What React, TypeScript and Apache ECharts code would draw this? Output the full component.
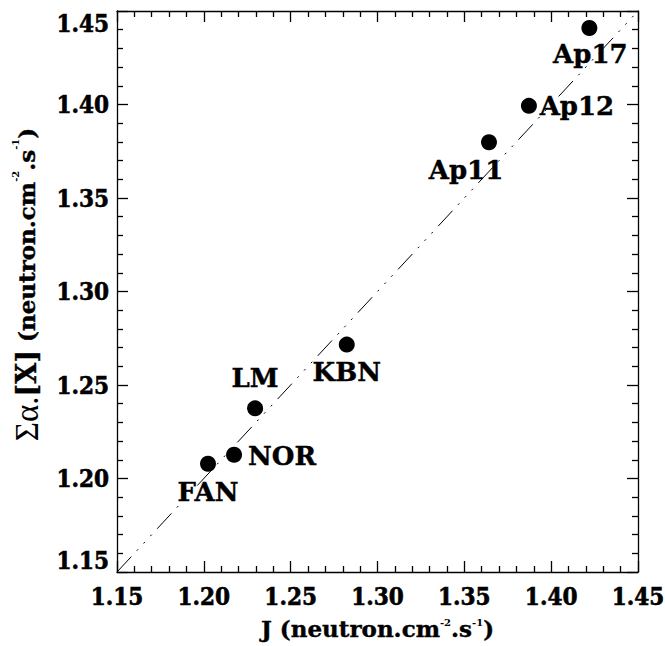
import React, { useEffect, useRef } from "react";
import * as echarts from "echarts";

const siteNames = ["FAN", "NOR", "LM", "KBN", "Ap11", "Ap12", "Ap17"];
const jValues = [1.2024, 1.2174, 1.2295, 1.2823, 1.3642, 1.3872, 1.422];
const sumAlphaX = [1.2079, 1.2127, 1.2375, 1.2716, 1.3798, 1.3993, 1.4409];
const axisMin = 1.15;
const axisMax = 1.45;
const axisStep = 0.05;
const identityLine = [
  [1.15, 1.15],
  [1.45, 1.45],
];

const COND = "'DejaVu Serif Condensed', 'DejaVu Serif', serif";
const SERIF = "'DejaVu Serif', serif";

export default function App() {
  const ref = useRef<HTMLDivElement>(null);
  useEffect(() => {
    if (!ref.current) return;
    const chart = echarts.init(ref.current, undefined, { renderer: "svg" });
    const offsets: Record<string, [number, number]> = {
      FAN: [0, 28],
      NOR: [48, 1],
      LM: [0, -30],
      KBN: [0, 27],
      Ap11: [-23, 28],
      Ap12: [48, 0],
      Ap17: [1, 26],
    };
    const lineStyle = { color: "#000", width: 1.3 };
    const tickLabel = {
      fontFamily: COND,
      fontWeight: "bold" as const,
      fontSize: 24,
      color: "#000",
      textBorderColor: "#000",
      textBorderWidth: 0.6,
    };
    const sup = { fontFamily: SERIF, fontWeight: "bold" as const, fontSize: 10, color: "#000", verticalAlign: "top" as const };
    const main = { fontFamily: SERIF, fontWeight: "bold" as const, fontSize: 23, color: "#000", textBorderColor: "#000", textBorderWidth: 0.4 };
    const big = { ...main, fontSize: 27 };
    const greek = { fontFamily: "'Liberation Serif', serif", fontWeight: "normal" as const, fontSize: 33, color: "#000" };
    const baseAxis = {
      type: "value" as const,
      min: axisMin,
      max: axisMax,
      interval: axisStep,
      axisLine: { show: true, onZero: false, lineStyle },
      axisTick: { show: true, inside: true, length: 11, lineStyle },
      minorTick: { show: true, splitNumber: 5, length: 6, lineStyle },
      splitLine: { show: false },
    };
    chart.setOption({
      animation: false,
      backgroundColor: "#fff",
      grid: { left: 117, right: 27, top: 11, bottom: 74, outerBoundsMode: "none", containLabel: false },
      xAxis: [
        {
          ...baseAxis,
          position: "bottom",
          axisLabel: { ...tickLabel, margin: 12, formatter: (v: number) => v.toFixed(2) },
          name: "{m|J (neutron.cm}{s|-2}{m|.s}{s|-1}{m|)}",
          nameLocation: "middle",
          nameGap: 45,
          nameTextStyle: { rich: { m: main, s: sup } },
        },
        {
          ...baseAxis,
          position: "top",
          axisLabel: { show: false },
        },
      ],
      yAxis: [
        {
          ...baseAxis,
          position: "left",
          axisLabel: {
            ...tickLabel,
            margin: 8,
            verticalAlignMinLabel: "bottom",
            verticalAlignMaxLabel: "top",
            formatter: (v: number) => v.toFixed(2),
          },
          name: "{g|Σα.}{b|[X]}{m| (neutron.cm}{s|-2}{m|.s}{s|-1}{m|)}",
          nameLocation: "middle",
          nameGap: 74,
          nameRotate: 90,
          nameTextStyle: { rich: { m: main, s: sup, g: greek, b: big }, padding: [0, 0, 0, 14] },
        },
        {
          ...baseAxis,
          position: "right",
          axisLabel: { show: false },
        },
      ],
      series: [
        {
          type: "line",
          xAxisIndex: 0,
          yAxisIndex: 0,
          data: identityLine,
          showSymbol: false,
          symbol: "none",
          lineStyle: { color: "#000", width: 1, type: [21, 8, 2, 8, 2, 8, 2, 8] },
          silent: true,
        },
        {
          type: "scatter",
          xAxisIndex: 0,
          yAxisIndex: 0,
          symbol: "circle",
          symbolSize: 16,
          itemStyle: { color: "#000", opacity: 1 },
          data: siteNames.map((n, i) => ({
            value: [jValues[i], sumAlphaX[i]],
            name: n,
            label: {
              show: true,
              position: "inside",
              offset: offsets[n],
              align: "center",
              verticalAlign: "middle",
              formatter: n,
              fontFamily: SERIF,
              fontWeight: "bold",
              fontSize: 26,
              color: "#000",
              textBorderColor: "#000",
              textBorderWidth: 0.4,
            },
          })),
        },
      ],
    });
    return () => chart.dispose();
  }, []);
  return (
    <div
      ref={ref}
      style={{ position: "absolute", left: 0, top: 0, width: 665, height: 646, overflow: "hidden" }}
    />
  );
}
